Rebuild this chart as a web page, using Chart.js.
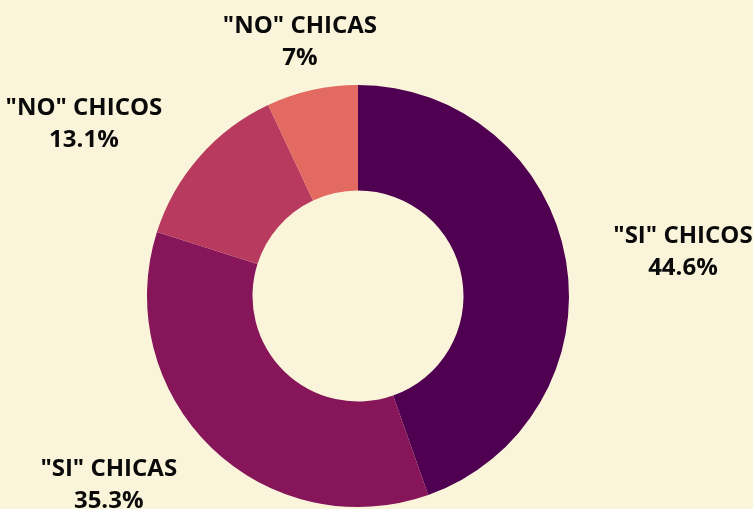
<!DOCTYPE html>
<html>
<head>
<meta charset="utf-8">
<script src="https://cdn.jsdelivr.net/npm/chart.js@4/dist/chart.umd.min.js"></script>
<style>
    html, body { margin: 0; padding: 0; background: #faf4da; }
    #wrap { width: 753px; height: 509px; position: relative; }
</style>
</head>
<body>
<div id="wrap"><canvas id="pie"></canvas></div>
<script>
// Data
const labels = ['"SI" CHICOS', '"SI" CHICAS', '"NO" CHICOS', '"NO" CHICAS'];
const values = [44.6, 35.3, 13.1, 7];
const colors = ['#4f0050', '#86155a', '#b83a5f', '#e36a60'];

// label nudges (px) from the radial anchor point
const labelNudge = [[13, 10], [-29, -38], [-36, 37], [11, 55]];

const outsideLabels = {
    id: 'outsideLabels',
    afterDatasetsDraw(chart) {
        const ctx = chart.ctx;
        const meta = chart.getDatasetMeta(0);
        ctx.save();
        ctx.fillStyle = '#0a0a0a';
        ctx.font = 'bold 24px "Open Sans"';
        ctx.textAlign = 'center';
        ctx.textBaseline = 'middle';
        meta.data.forEach((arc, i) => {
            const p = arc.getProps(['x', 'y', 'startAngle', 'endAngle', 'outerRadius'], true);
            const mid = (p.startAngle + p.endAngle) / 2;
            const r = p.outerRadius * 1.5;
            const x = p.x + Math.cos(mid) * r + labelNudge[i][0];
            const y = p.y + Math.sin(mid) * r + labelNudge[i][1];
            ctx.fillText(labels[i], x, y - 16);
            ctx.fillText(values[i] + '%', x, y + 16);
        });
        ctx.restore();
    }
};

new Chart(document.getElementById('pie'), {
    type: 'doughnut',
    data: {
        labels: labels,
        datasets: [{
            data: values,
            backgroundColor: colors,
            borderWidth: 0
        }]
    },
    options: {
        responsive: true,
        maintainAspectRatio: false,
        animation: false,
        cutout: '50%',
        layout: { padding: { top: 85, bottom: 2, left: 147, right: 184 } },
        plugins: {
            legend: { display: false },
            tooltip: { enabled: false }
        }
    },
    plugins: [outsideLabels]
});
</script>
</body>
</html>
